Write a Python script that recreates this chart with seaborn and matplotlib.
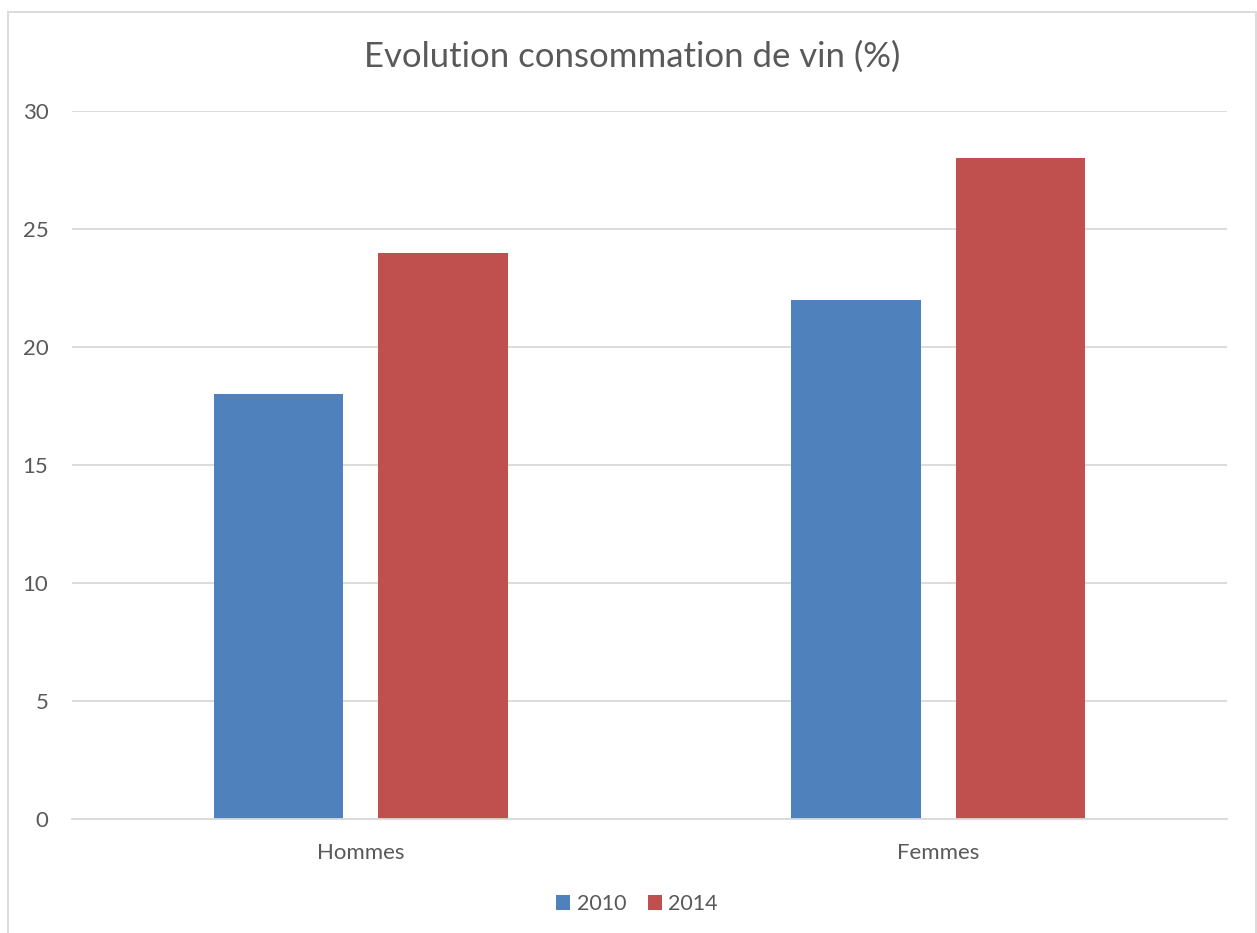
import matplotlib
matplotlib.use("Agg")
import matplotlib.pyplot as plt
from matplotlib.patches import Patch
from matplotlib.lines import Line2D
import pandas as pd
import seaborn as sns

categories = ["Hommes", "Femmes"]
years = ["2010", "2014"]
values_2010 = [18, 22]
values_2014 = [24, 28]
y_ticks = [0, 5, 10, 15, 20, 25, 30]
title = "Evolution consommation de vin (%)"

colors = {"2010": "#4F81BD", "2014": "#C0504D"}
text_color = "#595959"
grid_color = "#D9D9D9"

df = pd.DataFrame({
    "categorie": categories * 2,
    "annee": [years[0]] * len(categories) + [years[1]] * len(categories),
    "valeur": values_2010 + values_2014,
})

sns.set_style("white")
plt.rcParams["font.family"] = ["Lato", "DejaVu Sans"]

W, H = 1257, 933
fig = plt.figure(figsize=(W / 100, H / 100), dpi=100)
ax = fig.add_axes([72 / W, 1 - 819 / H, (1227 - 72) / W, (819 - 111) / H])

sns.barplot(data=df, x="categorie", y="valeur", hue="annee", order=categories,
            hue_order=years, palette=colors, width=0.57, gap=0.214,
            saturation=1, ax=ax, legend=False, errorbar=None, linewidth=0)

ax.set_ylim(0, 30)
ax.set_xlim(-0.5, 1.5)
ax.set_yticks(y_ticks)
ax.set_yticklabels([str(t) for t in y_ticks])
ax.yaxis.grid(True, color=grid_color, linewidth=1.3)
ax.set_axisbelow(True)
for s in ["left", "right", "top"]:
    ax.spines[s].set_visible(False)
ax.spines["bottom"].set_color(grid_color)
ax.spines["bottom"].set_linewidth(1.3)
ax.tick_params(axis="both", length=0, labelsize=16, colors=text_color)
ax.tick_params(axis="y", pad=17)
ax.tick_params(axis="x", pad=17)
ax.set_xlabel("")
ax.set_ylabel("")

fig.text(632 / W, 1 - 57 / H, title, ha="center", va="center",
         fontsize=25, color=text_color)

handles = [Patch(facecolor=colors[y], edgecolor="none") for y in years]
leg = fig.legend(handles, years, loc="center", bbox_to_anchor=(637 / W, 1 - 904 / H),
                 ncol=2, frameon=False, fontsize=15.5, handlelength=0.65,
                 handleheight=0.65, handletextpad=0.3, columnspacing=1.0)
for t in leg.get_texts():
    t.set_color(text_color)

# chart area frame (open at the bottom)
frame_kw = dict(color="#D9D9D9", linewidth=1.3, transform=fig.transFigure)
fig.add_artist(Line2D([8 / W, 8 / W], [0, 1 - 12 / H], **frame_kw))
fig.add_artist(Line2D([8 / W, 1256 / W], [1 - 12 / H, 1 - 12 / H], **frame_kw))
fig.add_artist(Line2D([1256 / W, 1256 / W], [0, 1 - 12 / H], **frame_kw))

fig.savefig("out.png", dpi=100, facecolor="white")
